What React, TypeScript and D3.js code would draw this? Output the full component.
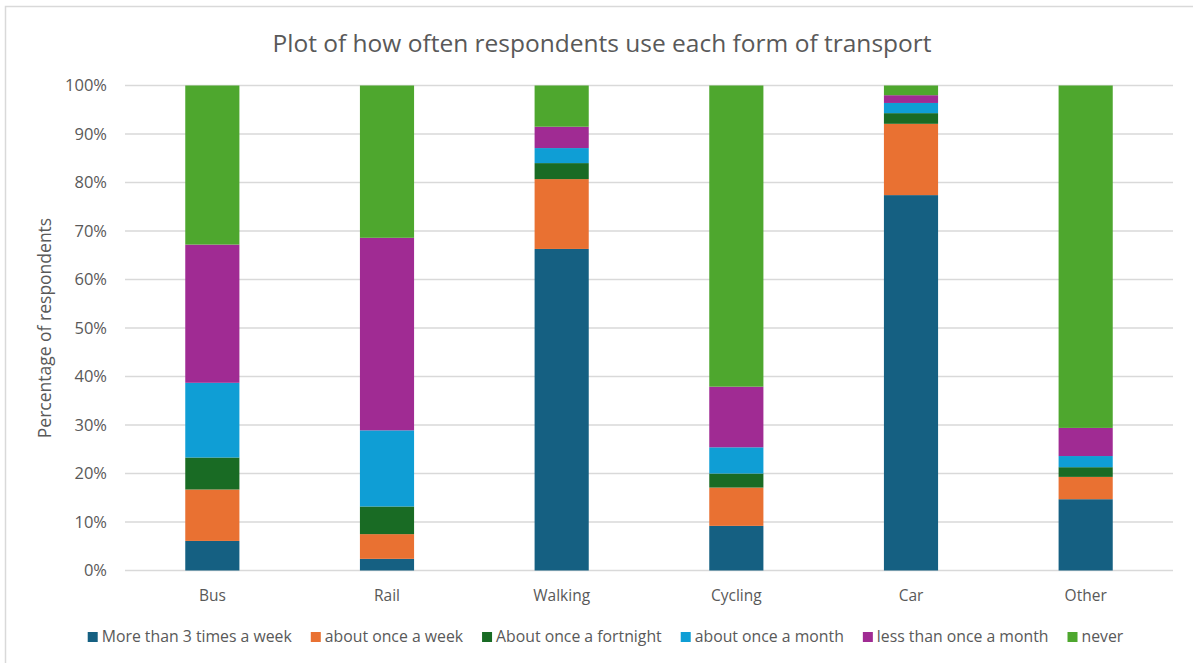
import React, { useEffect, useRef } from "react";
import * as d3 from "d3";

const categories = ["Bus", "Rail", "Walking", "Cycling", "Car", "Other"];
const seriesNames = [
  "More than 3 times a week",
  "about once a week",
  "About once a fortnight",
  "about once a month",
  "less than once a month",
  "never",
];
const moreThan3PerWeek = [6.1, 2.4, 66.3, 9.2, 77.4, 14.7];
const onceAWeek = [10.6, 5.1, 14.4, 7.9, 14.7, 4.6];
const onceAFortnight = [6.6, 5.7, 3.3, 2.9, 2.2, 2.0];
const onceAMonth = [15.4, 15.7, 3.1, 5.4, 2.1, 2.3];
const lessThanMonthly = [28.5, 39.7, 4.4, 12.5, 1.6, 5.8];
const never = [32.8, 31.4, 8.5, 62.1, 2.0, 70.6];
const yTicks = [0, 10, 20, 30, 40, 50, 60, 70, 80, 90, 100];

const colors = ["#156082", "#E97132", "#196B24", "#0F9ED5", "#A02B93", "#4EA72E"];
const FONT = "'Open Sans', Lato, sans-serif";
const TEXT = "#595959";

export default function App() {
  const svgRef = useRef<SVGSVGElement>(null);

  useEffect(() => {
    document.body.style.margin = "0";
    if (!svgRef.current) return;
    const width = 1193;
    const height = 663;
    const margin = { top: 85.5, right: 20, bottom: 92.5, left: 125 };

    const svg = d3.select(svgRef.current);
    svg.selectAll("*").remove();

    // chart frame (only top/left edges visible in the crop)
    svg.append("path")
      .attr("d", `M5.5,${height} V6.5 H${width}`)
      .attr("fill", "none")
      .attr("stroke", "#d9d9d9")
      .attr("stroke-width", 1.5);

    // build rows for stacking
    const allSeries = [moreThan3PerWeek, onceAWeek, onceAFortnight, onceAMonth, lessThanMonthly, never];
    const rows = categories.map((c, i) => {
      const row: any = { category: c };
      seriesNames.forEach((s, j) => (row[s] = allSeries[j][i]));
      return row;
    });
    const stacked = d3.stack<any>().keys(seriesNames)(rows);

    const xScale = d3.scaleBand()
      .domain(categories)
      .range([margin.left, width - margin.right])
      .paddingInner(0.69)
      .paddingOuter(0.345);

    const yScale = d3.scaleLinear()
      .domain([0, 100])
      .range([height - margin.bottom, margin.top]);

    // gridlines
    svg.append("g")
      .selectAll("line")
      .data(yTicks)
      .join("line")
      .attr("x1", margin.left)
      .attr("x2", width - margin.right)
      .attr("y1", d => yScale(d))
      .attr("y2", d => yScale(d))
      .attr("stroke", "#d9d9d9")
      .attr("stroke-width", 1.3);

    // y tick labels
    svg.append("g")
      .selectAll("text")
      .data(yTicks)
      .join("text")
      .attr("x", 107)
      .attr("y", d => yScale(d))
      .attr("dy", "0.35em")
      .attr("text-anchor", "end")
      .attr("font-family", FONT)
      .attr("font-size", 16.5)
      .attr("fill", TEXT)
      .text(d => `${d}%`);

    // bars
    svg.append("g")
      .selectAll("g")
      .data(stacked)
      .join("g")
      .attr("fill", (_, i) => colors[i])
      .selectAll("rect")
      .data(d => d)
      .join("rect")
      .attr("x", d => xScale(d.data.category)!)
      .attr("width", xScale.bandwidth())
      .attr("y", d => yScale(d[1]))
      .attr("height", d => yScale(d[0]) - yScale(d[1]));

    // x labels
    svg.append("g")
      .selectAll("text")
      .data(categories)
      .join("text")
      .attr("x", d => xScale(d)! + xScale.bandwidth() / 2)
      .attr("y", 601)
      .attr("text-anchor", "middle")
      .attr("font-family", FONT)
      .attr("font-size", 15.5)
      .attr("fill", TEXT)
      .text(d => d);

    // y axis title
    svg.append("text")
      .attr("transform", `translate(51, ${(yScale(0) + yScale(100)) / 2}) rotate(-90)`)
      .attr("text-anchor", "middle")
      .attr("font-family", FONT)
      .attr("font-size", 17.5)
      .attr("fill", TEXT)
      .text("Percentage of respondents");

    // title
    svg.append("text")
      .attr("x", 602)
      .attr("y", 52)
      .attr("text-anchor", "middle")
      .attr("font-family", FONT)
      .attr("font-size", 24.5)
      .attr("fill", TEXT)
      .text("Plot of how often respondents use each form of transport");

    // legend, laid out from measured text widths
    const legend = svg.append("g");
    const items = legend.selectAll("g")
      .data(seriesNames)
      .join("g");
    items.append("rect")
      .attr("width", 10)
      .attr("height", 10)
      .attr("y", -10)
      .attr("fill", (_, i) => colors[i]);
    const labels = items.append("text")
      .attr("x", 14)
      .attr("font-family", FONT)
      .attr("font-size", 15.8)
      .attr("fill", TEXT)
      .text(d => d);
    const widths = labels.nodes().map(n => (n as SVGTextElement).getComputedTextLength());
    const gap = 19;
    const total = d3.sum(widths) + widths.length * 14 + (widths.length - 1) * gap;
    let cursor = 605.5 - total / 2;
    const offsets = widths.map(w => {
      const o = cursor;
      cursor += 14 + w + gap;
      return o;
    });
    items.attr("transform", (_, i) => `translate(${offsets[i]}, 642)`);
  }, []);

  return <svg ref={svgRef} width={1193} height={663} style={{ display: "block", background: "#fff" }} />;
}
